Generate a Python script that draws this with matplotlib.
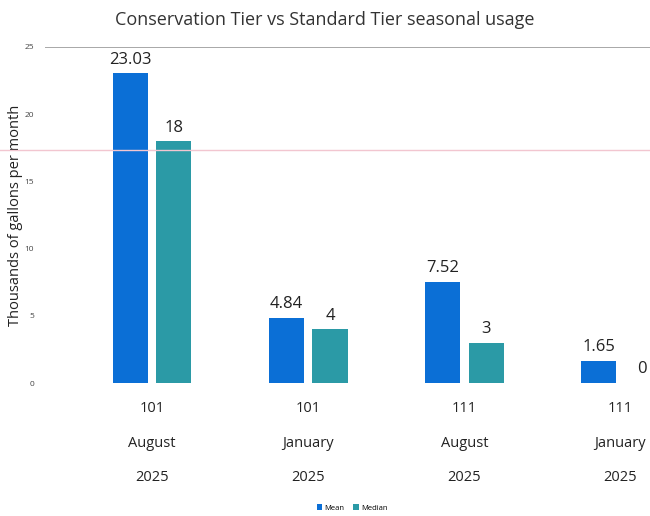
import matplotlib.pyplot as plt
from matplotlib.lines import Line2D
import numpy as np

plt.rcParams['font.family'] = ['Open Sans', 'DejaVu Sans']

categories = ["101\nAugust\n2025", "101\nJanuary\n2025", "111\nAugust\n2025", "111\nJanuary\n2025"]
mean_vals = [23.03, 4.84, 7.52, 1.65]
median_vals = [18, 4, 3, 0]
mean_labels = ["23.03", "4.84", "7.52", "1.65"]
median_labels = ["18", "4", "3", "0"]

fig = plt.figure(figsize=(6.5, 5.16), dpi=100)
ax = fig.add_axes([45/650, 133/516, 1 - 45/650, 336/516])

x = np.arange(len(categories))
w = 0.225
off = 0.14
b1 = ax.bar(x - off, mean_vals, w, color='#0b6fd6', label='Mean')
b2 = ax.bar(x + off, median_vals, w, color='#2b9aa6', label='Median')

for rect, lab in zip(b1, mean_labels):
    ax.annotate(lab, (rect.get_x() + rect.get_width()/2, rect.get_height()),
                xytext=(0, 4), textcoords='offset points', ha='center', va='bottom',
                fontsize=12, color='#222222')
for rect, lab in zip(b2, median_labels):
    ax.annotate(lab, (rect.get_x() + rect.get_width()/2, rect.get_height()),
                xytext=(0, 4), textcoords='offset points', ha='center', va='bottom',
                fontsize=12, color='#222222')

ax.set_xlim(-0.686, 3.19)
ax.set_ylim(0, 25)
ax.axhline(25, color='#999999', lw=1.2)
ax.set_yticks([0, 5, 10, 15, 20, 25])
ax.tick_params(axis='y', labelsize=6, length=0, pad=8, labelcolor='#444444')
ax.set_xticks(x)
ax.set_xticklabels(categories, fontsize=10.5, linespacing=2.78, color='#222222')
ax.tick_params(axis='x', length=0, pad=13)
for s in ax.spines.values():
    s.set_visible(False)

ax.set_ylabel("Thousands of gallons per month", fontsize=10.5, color='#222222', labelpad=1)
fig.text(0.5, 0.962, "Conservation Tier vs Standard Tier seasonal usage",
         ha='center', va='center', fontsize=13, color='#333333')

# faint pink scan line
fig.add_artist(Line2D([0, 1], [1 - 150/516, 1 - 150/516], color='#f2c6d0', lw=1,
                      transform=fig.transFigure))

fig.legend(handles=[b1, b2], labels=['Mean', 'Median'], loc='center',
           bbox_to_anchor=(352/650, 1 - 508/516), ncol=2, frameon=False,
           fontsize=5.5, handlelength=0.7, handleheight=0.7, columnspacing=1.2,
           handletextpad=0.3)

fig.savefig("out.png", dpi=100)
